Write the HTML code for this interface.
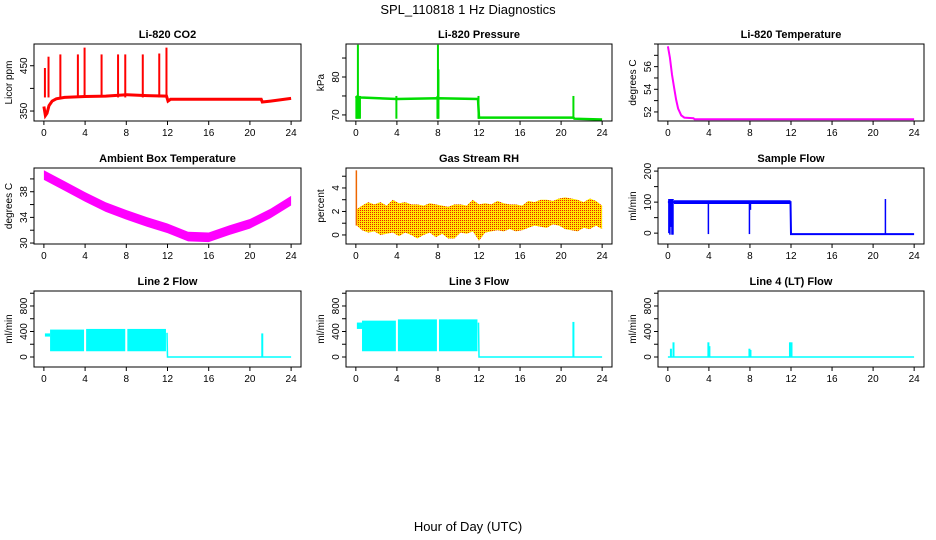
<!DOCTYPE html>
<html><head><meta charset="utf-8">
<style>
html,body{margin:0;padding:0;background:#fff;}
svg{display:block;font-family:"Liberation Sans",sans-serif;}
</style></head>
<body>
<svg id="chart" width="936" height="540" viewBox="0 0 936 540" xmlns="http://www.w3.org/2000/svg">
<defs>
<pattern id="rhpat" width="2" height="2" patternUnits="userSpaceOnUse">
<rect width="2" height="2" fill="#ffe600"/><rect width="1" height="1" fill="#e82000"/>
</pattern>
</defs>
<text x="468" y="14" font-size="13" text-anchor="middle">SPL_110818  1 Hz Diagnostics</text>
<text x="468" y="531" font-size="13" text-anchor="middle">Hour of Day (UTC)</text>
</svg>
<script>
// shared x ticks
const xTicks = [0,4,8,12,16,20,24];

// CO2
const co2Hours = [0,0.15,0.3,0.5,0.8,1.2,2,4,6,8,10,11.9,12.05,12.3,16,20,21.1,21.2,22,24];
const co2Vals  = [360,340,345,362,372,377,380,382,383,386,384,383,372,376,376,376,376,370,372,378];
const co2SpikeHours = [0.1,0.45,1.6,3.3,3.95,5.6,7.2,7.9,9.6,11.2,11.9];
const co2SpikeTops  = [445,470,475,475,490,475,475,475,475,477,490];

// Pressure
const presHours = [0,0.1,0.5,4,8,11.9,12,21.2,21.3,24];
const presVals  = [74.5,74.8,74.6,74.2,74.4,74.2,69.3,69.3,69.0,68.8];
const presSpikeHours = [0.05,0.1,0.2,0.3,0.4,3.95,7.95,8.0,8.05,11.95,21.2];
const presSpikeLo    = [69,69,69,69,69,69,69,69,69,69,69.3];
const presSpikeHi    = [75,75,88.5,75,75,75,75,88.5,82,75,75];

// Li-820 temperature
const tempHours = [0,0.2,0.4,0.6,0.8,1,1.3,1.6,2.5,2.6,24];
const tempVals  = [57.8,56.8,55.3,54.2,53.1,52.3,51.7,51.5,51.45,51.35,51.35];

// Ambient box temperature
const ambHours = [0,2,4,6,8,10,12,14,16,18,20,22,24];
const ambVals  = [40.6,38.9,37.2,35.6,34.4,33.3,32.3,31.0,30.9,32.0,33.0,34.6,36.6];
const ambHalfBand = 0.75;

// Gas stream RH
const rhHours = [0.1,0.6,1.2,1.8,2.4,3,3.6,4.2,4.8,5.4,6,6.6,7.2,7.8,8.4,9,9.6,10.2,10.8,11.4,12,12.6,13.2,13.8,14.4,15,15.6,16.2,16.8,17.4,18,18.6,19.2,19.8,20.4,21,21.6,22.2,22.8,23.4,24];
const rhLo = [0.8,0.4,0.2,0.3,0.0,0.1,0.2,-0.1,0.2,0.0,-0.3,0.0,0.2,-0.2,0.1,-0.3,-0.3,0.2,0.1,0.3,-0.5,0.2,0.3,0.4,0.3,0.5,0.3,0.4,0.6,0.8,0.7,0.6,0.9,0.8,0.5,0.4,0.3,0.6,0.5,0.8,0.5];
const rhHi = [2.2,2.5,2.8,2.6,2.8,2.5,3.0,2.7,2.8,2.6,2.6,2.5,2.7,2.6,2.5,2.4,2.6,2.6,2.5,3.0,2.6,2.7,2.6,2.9,2.7,2.6,2.6,2.5,2.9,2.8,3.0,3.0,2.9,3.1,3.2,3.1,3.0,2.8,3.1,2.9,2.5];
const rhSpikeHi = 5.5;

// Sample flow
const sfHours = [0,0.6,0.61,4,8,11.95,12,21.2,21.25,24];
const sfVals  = [100,100,100,100,100,100,-3,-3,-3,-3];
const sfSpikeHours = [0.1,0.2,0.3,0.4,0.5,3.95,7.95,8.05,21.2];
const sfSpikeLo    = [0,-5,20,-5,-5,-3,-3,75,-3];
const sfSpikeHi    = [110,110,110,110,110,105,105,105,110];
const sfBandHalf = 6;

// Line 2 flow
const l2BlockStart = [0.1,0.6,4.1,8.1];
const l2BlockEnd   = [0.6,3.9,7.9,11.85];
const l2BlockLo    = [320,90,90,90];
const l2BlockHi    = [370,430,440,440];
const l2Tail = [[11.95,380],[12,0],[24,0]];
const l2SpikeHours = [21.2];
const l2SpikeHi = [370];

// Line 3 flow
const l3BlockStart = [0.1,0.6,4.1,8.1];
const l3BlockEnd   = [0.6,3.9,7.9,11.85];
const l3BlockLo    = [440,90,90,90];
const l3BlockHi    = [540,570,590,590];
const l3SpikeHours = [21.2];
const l3SpikeHi = [550];

// Line 4 flow
const l4SpikeHours = [0.3,0.55,3.95,4.05,7.95,8.05,11.9,12.05];
const l4SpikeHi = [130,230,230,170,130,110,230,230];

const NS = "http://www.w3.org/2000/svg";
const svg = document.getElementById('chart');
function mk(tag, attrs, parent){ const e=document.createElementNS(NS,tag); for(const k in attrs) e.setAttribute(k,attrs[k]); (parent||svg).appendChild(e); return e; }

const colX = [[34,301],[346,612],[658,924]];
const rowY = [[44,121],[168,244],[291,367]];

function panel(col,row,title,ylab,ymin,ymax,minorStep,labels,name){
  const [x0,x1]=colX[col],[y0,y1]=rowY[row];
  const g = mk('g',{});
  
  
  const sx = h => x0 + (h+0.96)/25.92*(x1-x0);
  const sy = v => y1 - (v-ymin)/(ymax-ymin)*(y1-y0);
  const t = mk('text',{x:(x0+x1)/2,y:y0-6,'font-size':11,'font-weight':'bold','text-anchor':'middle'},g);
  t.textContent=title;
  
  
  const yl = mk('text',{x:0,y:0,'font-size':10,'text-anchor':'middle',transform:`translate(${x0-22},${(y0+y1)/2}) rotate(-90)`},g);
  yl.textContent=ylab;
  
  
  const plot = mk('g',{},g);
  xTicks.forEach(v=>{
    const x=sx(v);
    mk('line',{x1:x,x2:x,y1:y1,y2:y1+4,stroke:'#000'},g);
    const tx=mk('text',{x:x,y:y1+15,'font-size':10,'text-anchor':'middle'},g);
    tx.textContent=v;
    
    
  });
  for(let v=Math.ceil(ymin/minorStep)*minorStep; v<=ymax; v+=minorStep){
    const y=sy(v);
    mk('line',{x1:x0-4,x2:x0,y1:y,y2:y,stroke:'#000'},g);
  }
  labels.forEach(v=>{
    const y=sy(v);
    const tl=mk('text',{x:0,y:0,'font-size':10,'text-anchor':'middle',transform:`translate(${x0-7},${y}) rotate(-90)`},g);
    tl.textContent=v;
    
    
  });
  const box=mk('rect',{x:x0,y:y0,width:x1-x0,height:y1-y0,fill:'none',stroke:'#000'},g);
  
  
  return {sx,sy,plot};
}
function line(p,hs,vs,color,w,name){
  const d=hs.map((h,i)=>(i?'L':'M')+p.sx(h).toFixed(1)+' '+p.sy(vs[i]).toFixed(1)).join('');
  const e=mk('path',{d:d,fill:'none',stroke:color,'stroke-width':w},p.plot);
  
  
}
function spikes(p,hs,lo,hi,color,w,name){
  hs.forEach((h,i)=>{
    const e=mk('line',{x1:p.sx(h),x2:p.sx(h),y1:p.sy(lo[i]),y2:p.sy(hi[i]),stroke:color,'stroke-width':w},p.plot);
    
    
  });
}
function band(p,hs,lo,hi,fill,name){
  const pts=hs.map((h,i)=>p.sx(h).toFixed(1)+','+p.sy(hi[i]).toFixed(1));
  for(let i=hs.length-1;i>=0;i--) pts.push(p.sx(hs[i]).toFixed(1)+','+p.sy(lo[i]).toFixed(1));
  const e=mk('polygon',{points:pts.join(' '),fill:fill},p.plot);
  
  
}
function blocks(p,st,en,lo,hi,color,name){
  st.forEach((s,i)=>{
    const e=mk('rect',{x:p.sx(s),y:p.sy(hi[i]),width:p.sx(en[i])-p.sx(s),height:p.sy(lo[i])-p.sy(hi[i]),fill:color},p.plot);
    
    
  });
}

let p=panel(0,0,'Li-820 CO2','Licor ppm',328,498,50,[350,450],'co2');
line(p,co2Hours,co2Vals,'#ff0000',3,'co2-line');
spikes(p,co2SpikeHours,co2SpikeHours.map(()=>380),co2SpikeTops,'#ff0000',2,'co2-spike');

p=panel(1,0,'Li-820 Pressure','kPa',68.4,88.7,5,[70,80],'pressure');
line(p,presHours,presVals,'#00dd00',2.5,'pressure-line');
spikes(p,presSpikeHours,presSpikeLo,presSpikeHi,'#00dd00',2,'pressure-spike');

p=panel(2,0,'Li-820 Temperature','degrees C',51.2,58.0,1,[52,54,56],'li820-temp');
line(p,tempHours,tempVals,'#ff00ff',2,'li820-temp-line');

p=panel(0,1,'Ambient Box Temperature','degrees C',29.85,41.7,2,[30,34,38],'ambient-temp');
band(p,ambHours,ambVals.map(v=>v-ambHalfBand),ambVals.map(v=>v+ambHalfBand),'#ff00ff','ambient-temp-band');

p=panel(1,1,'Gas Stream RH','percent',-0.77,5.7,1,[0,2,4],'rh');
band(p,rhHours,rhLo,rhHi,'url(#rhpat)','rh-band');
spikes(p,[0.05],[0.8],[rhSpikeHi],'#ee6600',1.5,'rh-spike');

p=panel(2,1,'Sample Flow','ml/min',-35,210,50,[0,100,200],'sample-flow');
band(p,[0.6,11.95],[100-sfBandHalf,100-sfBandHalf],[100+sfBandHalf,100+sfBandHalf],'#0000ff','sample-flow-band');
line(p,sfHours,sfVals,'#0000ff',2,'sample-flow-line');
spikes(p,sfSpikeHours,sfSpikeLo,sfSpikeHi,'#0000ff',1.5,'sample-flow-spike');

p=panel(0,2,'Line 2 Flow','ml/min',-157,1035,200,[0,400,800],'line2-flow');
blocks(p,l2BlockStart,l2BlockEnd,l2BlockLo,l2BlockHi,'#00ffff','line2-flow-block');
line(p,l2Tail.map(d=>d[0]),l2Tail.map(d=>d[1]),'#00ffff',1.5,'line2-flow-line');
spikes(p,l2SpikeHours,[0],l2SpikeHi,'#00ffff',2,'line2-flow-spike');

p=panel(1,2,'Line 3 Flow','ml/min',-157,1035,200,[0,400,800],'line3-flow');
blocks(p,l3BlockStart,l3BlockEnd,l3BlockLo,l3BlockHi,'#00ffff','line3-flow-block');
line(p,[11.95,12,24],[540,0,0],'#00ffff',1.5,'line3-flow-line');
spikes(p,l3SpikeHours,[0],l3SpikeHi,'#00ffff',2,'line3-flow-spike');

p=panel(2,2,'Line 4 (LT) Flow','ml/min',-157,1035,200,[0,400,800],'line4-flow');
line(p,[0,24],[0,0],'#00ffff',1.5,'line4-flow-line');
spikes(p,l4SpikeHours,l4SpikeHours.map(()=>0),l4SpikeHi,'#00ffff',2,'line4-flow-spike');
</script>
</body></html>
